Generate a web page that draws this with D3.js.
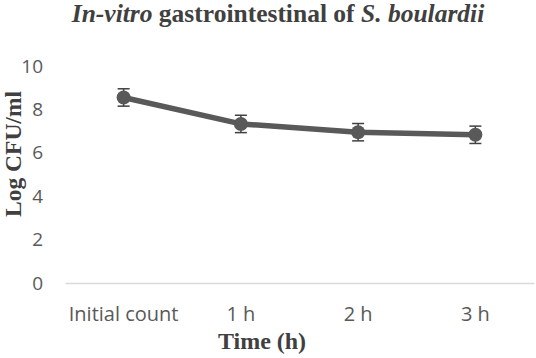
<!DOCTYPE html>
<html>
<head>
<meta charset="utf-8">
<script src="https://cdn.jsdelivr.net/npm/d3@7"></script>
<style>
  body { margin: 0; background: #fff; }
  svg { display: block; }
</style>
</head>
<body>
<div id="chart"></div>
<script>
const categories = ["Initial count", "1 h", "2 h", "3 h"];
const logCfu = [8.55, 7.33, 6.95, 6.83];
const errors = [0.4, 0.4, 0.4, 0.4];
const yTicks = [0, 2, 4, 6, 8, 10];

const width = 536, height = 358;
const margin = { top: 66, right: 2, bottom: 75, left: 65 };
const grey = "#595959";
const serif = "'Liberation Serif', 'Times New Roman', serif";
const sans = "'Open Sans', 'Noto Sans', sans-serif";

const svg = d3.select("#chart").append("svg")
    .attr("width", width).attr("height", height);

const x = d3.scaleBand().domain(categories)
    .range([margin.left, width - margin.right]);
const y = d3.scaleLinear().domain([0, 10])
    .range([height - margin.bottom, margin.top]);

// y axis: labels only
svg.append("g").attr("transform", `translate(${margin.left - 22},0)`)
    .call(d3.axisLeft(y).tickValues(yTicks).tickSize(0).tickPadding(0))
    .call(g => g.select(".domain").remove())
    .call(g => g.selectAll("text").attr("fill", grey).attr("font-family", sans).attr("font-size", 19));

// x axis: baseline + category labels
svg.append("g").attr("transform", `translate(0,${y(0)})`)
    .call(d3.axisBottom(x).tickSize(0).tickPadding(24))
    .call(g => g.select(".domain").attr("stroke", "#d9d9d9").attr("stroke-width", 1.5))
    .call(g => g.selectAll("text").attr("fill", grey).attr("font-family", sans).attr("font-size", 20));

const cx = d => x(d) + x.bandwidth() / 2;
const pts = categories.map((c, i) => ({ c, v: logCfu[i], e: errors[i] }));

svg.append("path").datum(pts)
    .attr("fill", "none").attr("stroke", grey).attr("stroke-width", 5.5)
    .attr("stroke-linejoin", "round")
    .attr("d", d3.line().x(d => cx(d.c)).y(d => y(d.v)));

// error bars
const eb = svg.append("g").attr("stroke", "#404040").attr("stroke-width", 1.5);
pts.forEach(d => {
    eb.append("line").attr("x1", cx(d.c)).attr("x2", cx(d.c)).attr("y1", y(d.v + d.e)).attr("y2", y(d.v - d.e));
    [d.v + d.e, d.v - d.e].forEach(v => {
        eb.append("line").attr("x1", cx(d.c) - 6).attr("x2", cx(d.c) + 6).attr("y1", y(v)).attr("y2", y(v));
    });
});

svg.append("g").selectAll("circle").data(pts).join("circle")
    .attr("cx", d => cx(d.c)).attr("cy", d => y(d.v)).attr("r", 7)
    .attr("fill", grey);

// titles
const title = svg.append("text")
    .attr("x", 278).attr("y", 22).attr("text-anchor", "middle")
    .attr("font-family", serif).attr("font-size", 25.5).attr("font-weight", "bold").attr("fill", "#404040");
title.append("tspan").attr("font-style", "italic").text("In-vitro");
title.append("tspan").text(" gastrointestinal of ");
title.append("tspan").attr("font-style", "italic").text("S. boulardii");

svg.append("text")
    .attr("transform", "translate(21,154) rotate(-90)").attr("text-anchor", "middle")
    .attr("font-family", serif).attr("font-size", 23.5).attr("font-weight", "bold").attr("fill", "#404040")
    .text("Log CFU/ml");

svg.append("text")
    .attr("x", 262).attr("y", 349).attr("text-anchor", "middle")
    .attr("font-family", serif).attr("font-size", 24).attr("font-weight", "bold").attr("fill", "#404040")
    .text("Time (h)");
</script>
</body>
</html>
